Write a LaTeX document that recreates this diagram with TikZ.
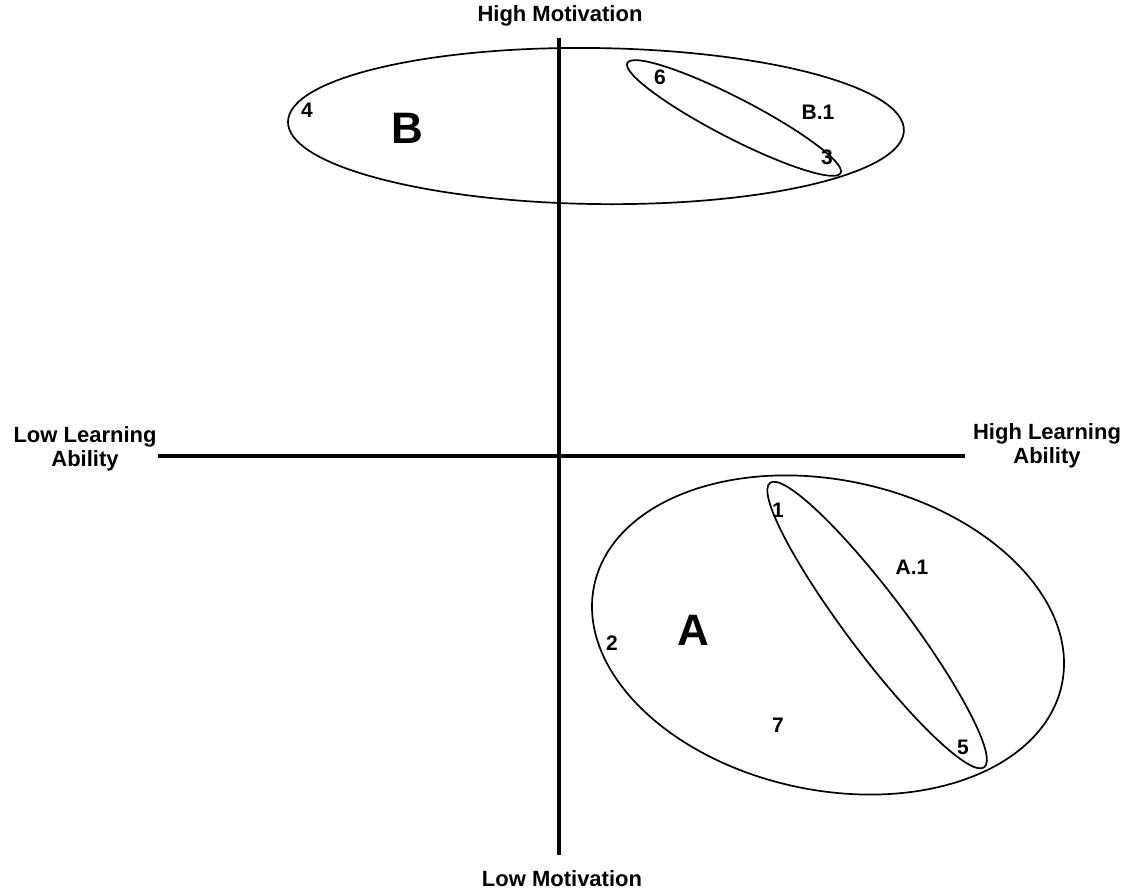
\documentclass[tikz,border=0pt]{standalone}
\usepackage{fontspec}
\setmainfont{Liberation Sans}
\begin{document}
\begin{tikzpicture}[x=0.5pt,y=0.5pt,
  axis/.style={line width=1.8pt},
  ring/.style={line width=0.85pt},
  lab/.style={font=\bfseries\fontsize{11}{12}\selectfont, align=center, inner sep=0pt},
  num/.style={font=\bfseries\fontsize{10.5}{12}\selectfont, inner sep=0pt},
  big/.style={font=\bfseries\fontsize{22}{24}\selectfont, inner sep=0pt}]
\useasboundingbox (0,0) rectangle (1130,892);
% axes
\coordinate (vtop) at (559,854);
\coordinate (vbot) at (559,37);
\coordinate (hl) at (158,436);
\coordinate (hr) at (965,436);
\draw[axis] (vtop) -- (vbot);
\draw[axis] (hl) -- (hr);
% axis labels
\node[lab, anchor=base] (hm) at (560,870) {High Motivation};
\node[lab, anchor=base] (lm) at (562,5) {Low Motivation};
\node[lab] (lla) at (85,443) {Low Learning\\Ability};
\node[lab] (hla) at (1047,446) {High Learning\\Ability};
% cluster ellipses
\coordinate (cB) at (596,766);
\coordinate (cB1) at (734,774);
\coordinate (cA) at (828,257);
\coordinate (cA1) at (877,267);
\draw[ring, rotate around={-0.8:(cB)}] (cB) ellipse [x radius=154pt, y radius=39pt];
\draw[ring, rotate around={-27.3:(cB1)}] (cB1) ellipse [x radius=60pt, y radius=10pt];
\draw[ring, rotate around={-12:(cA)}] (cA) ellipse [x radius=119.5pt, y radius=77.5pt];
\draw[ring, rotate around={-53:(cA1)}] (cA1) ellipse [x radius=89pt, y radius=15pt];
% labels
\node[num] (n4) at (307,782) {4};
\node[big] (lB) at (407,764) {B};
\node[num] (n6) at (660,815) {6};
\node[num] (lB1) at (818,780) {B.1};
\node[num] (n3) at (827,735) {3};
\node[num] (n1) at (778,382) {1};
\node[num] (lA1) at (912,325) {A.1};
\node[big] (lA) at (693,262) {A};
\node[num] (n2) at (612,249) {2};
\node[num] (n7) at (778,167) {7};
\node[num] (n5) at (963,145) {5};
\end{tikzpicture}
\end{document}
